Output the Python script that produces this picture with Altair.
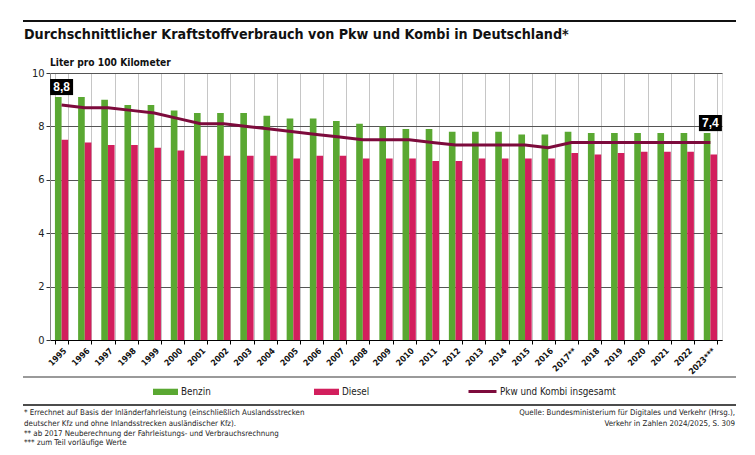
import altair as alt
import pandas as pd

years = ["1995", "1996", "1997", "1998", "1999", "2000", "2001", "2002", "2003",
         "2004", "2005", "2006", "2007", "2008", "2009", "2010", "2011", "2012",
         "2013", "2014", "2015", "2016", "2017**", "2018", "2019", "2020", "2021",
         "2022", "2023***"]
benzin = [9.1, 9.1, 9.0, 8.8, 8.8, 8.6, 8.5, 8.5, 8.5, 8.4, 8.3, 8.3, 8.2, 8.1, 8.0,
          7.9, 7.9, 7.8, 7.8, 7.8, 7.7, 7.7, 7.8, 7.75, 7.75, 7.75, 7.75, 7.75, 7.75]
diesel = [7.5, 7.4, 7.3, 7.3, 7.2, 7.1, 6.9, 6.9, 6.9, 6.9, 6.8, 6.9, 6.9, 6.8, 6.8,
          6.8, 6.7, 6.7, 6.8, 6.8, 6.8, 6.8, 7.0, 6.95, 7.0, 7.05, 7.05, 7.05, 6.95]
total = [8.8, 8.7, 8.7, 8.6, 8.5, 8.3, 8.1, 8.1, 8.0, 7.9, 7.8, 7.7, 7.6, 7.5, 7.5,
         7.5, 7.4, 7.3, 7.3, 7.3, 7.3, 7.2, 7.4, 7.4, 7.4, 7.4, 7.4, 7.4, 7.4]
y_ticks = [0, 2, 4, 6, 8, 10]
series = ["Benzin", "Diesel"]
line_name = "Pkw und Kombi insgesamt"

title = "Durchschnittlicher Kraftstoffverbrauch von Pkw und Kombi in Deutschland*"
unit = "Liter pro 100 Kilometer"
notes = [
    "* Errechnet auf Basis der Inländerfahrleistung (einschließlich Auslandsstrecken",
    "deutscher Kfz und ohne Inlandsstrecken ausländischer Kfz).",
    "** ab 2017 Neuberechnung der Fahrleistungs- und Verbrauchsrechnung",
    "*** zum Teil vorläufige Werte",
]
source = [
    "Quelle: Bundesministerium für Digitales und Verkehr (Hrsg.),",
    "Verkehr in Zahlen 2024/2025, S. 309",
]

F = "Liberation Sans Narrow, DejaVu Sans Condensed, Arial Narrow, sans-serif"
GREEN = "#5aa832"
PINK = "#d21f5d"
MAROON = "#7d0b3c"

n = len(years)
df_bars = pd.DataFrame({
    "Jahr": years * 2,
    "Art": ["Benzin"] * n + ["Diesel"] * n,
    "Wert": benzin + diesel,
})
df_line = pd.DataFrame({"Jahr": years, "Wert": total, "Reihe": [line_name] * n})
idx = [0, n - 1]
df_lab = pd.DataFrame({
    "Jahr": [years[i] for i in idx],
    "Wert": [benzin[i] for i in idx],
    "Text": [f"{total[i]:.1f}".replace(".", ",") for i in idx],
})
dummy = pd.DataFrame({"d": [0]})

x = alt.X(
    "Jahr:N", sort=years,
    scale=alt.Scale(paddingInner=0.426, paddingOuter=0.213),
    axis=alt.Axis(
        title=None, labelAngle=-45, labelAlign="right", labelBaseline="top",
        labelFontSize=8.5, labelFontWeight="bold", labelFont=F, labelColor="#111",
        labelPadding=2, labelOverlap=False, tickBand="extent", tickSize=4,
        tickColor="#000", domainColor="#000", grid=True, gridColor="#c6c6c6",
    ),
)
y = alt.Y(
    "Wert:Q", scale=alt.Scale(domain=[0, 10], nice=False),
    axis=alt.Axis(
        title=None, values=y_ticks, grid=True, gridColor="#555", tickSize=4,
        tickColor="#333", domainColor="#888", labelFontSize=11, labelFont=F,
        labelPadding=2, labelColor="#222",
    ),
)

bars = alt.Chart(df_bars).mark_bar().encode(
    x=x,
    xOffset=alt.XOffset("Art:N", sort=series,
                        scale=alt.Scale(paddingInner=0, paddingOuter=0)),
    y=y,
    color=alt.Color(
        "Art:N", scale=alt.Scale(domain=series, range=[GREEN, PINK]),
        legend=alt.Legend(
            orient="none", legendX=103, legendY=306, direction="horizontal",
            title=None, symbolType="M-1,-0.25L1,-0.25L1,0.25L-1,0.25Z",
            symbolSize=625, symbolStrokeWidth=0, symbolOpacity=1,
            labelFontSize=9.8, labelFont=F, labelColor="#222",
            columnPadding=103, labelOffset=3,
        ),
    ),
)

line = alt.Chart(df_line).mark_line(strokeWidth=3).encode(
    x=x, y=y,
    stroke=alt.Stroke(
        "Reihe:N", scale=alt.Scale(domain=[line_name], range=[MAROON]),
        legend=alt.Legend(
            orient="none", legendX=417, legendY=303, title=None,
            symbolType="stroke", symbolSize=784, symbolStrokeWidth=3,
            labelFontSize=9.8, labelFont=F, labelColor="#222", labelOffset=2,
        ),
    ),
)

box = alt.Chart(df_lab).mark_point(
    shape="M-1,-0.7L1,-0.7L1,0.7L-1,0.7Z", filled=True, color="black",
    opacity=1, size=529, yOffset=-10,
).encode(x=x, y=y)

box_text = alt.Chart(df_lab).mark_text(
    color="white", fontWeight="bold", fontSize=12, font="Liberation Sans, Arial",
    yOffset=-10, baseline="middle", align="center",
).encode(x=x, y=y, text="Text:N")


def txt(s, xp, yp, **kw):
    return alt.Chart(dummy).mark_text(baseline="middle", font=F, **kw).encode(
        x=alt.value(xp), y=alt.value(yp), text=alt.value(s))


def rule(x1, x2, yp, color, width):
    return alt.Chart(dummy).mark_rule(color=color, strokeWidth=width).encode(
        x=alt.value(x1), x2=alt.value(x2), y=alt.value(yp))


deco = [
    rule(-27, 686, -52, "#111", 2),
    txt(title, -26, -38, align="left", fontSize=14.2, fontWeight="bold", color="#111"),
    txt(unit, 0, -10, align="left", fontSize=10.2, fontWeight="bold", color="#111"),
    rule(-27, 686, 304, "#9a9a9a", 2),
    rule(-27, 686, 332, "#111", 1.5),
]
note_y = [340, 351, 361, 370]
for s, yy in zip(notes, note_y):
    deco.append(txt(s, -26, yy, align="left", fontSize=7.9, color="#222"))
for s, yy in zip(source, note_y[:2]):
    deco.append(txt(s, 685, yy, align="right", fontSize=7.9, color="#222"))

chart = alt.layer(bars, line, box, box_text, *deco).properties(
    width=672, height=267,
    padding={"left": 42, "top": 65, "right": 25, "bottom": 107},
    autosize=alt.AutoSizeParams(type="none"),
).configure_view(fill="#e9e9e9", stroke="#c6c6c6").configure(background="white")

chart.save("out.html", embed_options={"renderer": "svg", "actions": False})
